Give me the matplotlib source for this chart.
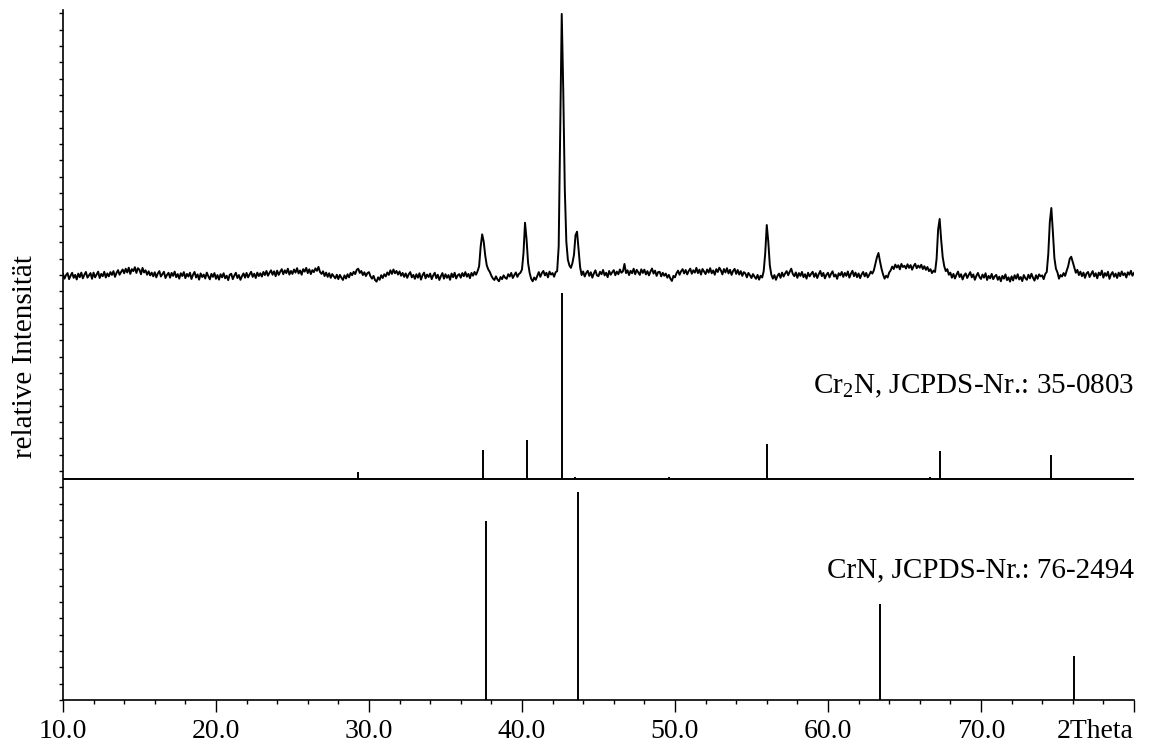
import numpy as np
import matplotlib
matplotlib.use("Agg")
import matplotlib.pyplot as plt
from matplotlib.ticker import MultipleLocator

plt.rcParams['font.family'] = ['Liberation Serif', 'DejaVu Serif']
plt.rcParams['mathtext.fontset'] = 'custom'
plt.rcParams['mathtext.rm'] = 'Liberation Serif'

# measured pattern, 2theta 10.0 .. 80.0, step 0.1 (counts, one row per degree)
meas_start, meas_step = 10.0, 0.1
meas_counts = [
    132, 104, 126, 138, 101, 122, 140, 109, 127, 99,    # 10
    135, 113, 141, 106, 128, 145, 110, 124, 138, 103,   # 11
    141, 112, 130, 147, 108, 133, 119, 146, 111, 136,   # 12
    118, 144, 127, 150, 115, 139, 156, 128, 145, 160,   # 13
    137, 165, 142, 171, 133, 162, 150, 174, 139, 168,   # 14
    158, 131, 170, 142, 155, 128, 149, 124, 141, 118,   # 15
    143, 112, 136, 150, 117, 131, 146, 108, 127, 140,   # 16
    110, 139, 121, 147, 113, 132, 104, 137, 120, 144,   # 17
    107, 133, 117, 140, 102, 128, 145, 111, 130, 98,    # 18
    136, 114, 129, 105, 141, 119, 100, 133, 115, 138,   # 19
    103, 126, 98, 131, 112, 137, 106, 122, 95, 128,     # 20
    134, 101, 123, 140, 108, 126, 97, 119, 136, 110,    # 21
    139, 112, 130, 146, 115, 134, 108, 141, 120, 137,   # 22
    117, 145, 126, 151, 122, 140, 155, 128, 149, 119,   # 23
    153, 127, 146, 162, 131, 155, 138, 165, 129, 151,   # 24
    133, 160, 141, 168, 136, 154, 128, 162, 147, 170,   # 25
    138, 161, 132, 156, 144, 167, 152, 176, 145, 133,   # 26
    149, 120, 141, 115, 137, 109, 132, 118, 106, 128,   # 27
    101, 127, 110, 96, 124, 105, 131, 112, 139, 125,    # 28
    146, 132, 158, 165, 139, 151, 126, 143, 120, 138,   # 29
    144, 118, 104, 121, 95, 86, 112, 97, 125, 108,      # 30
    131, 118, 142, 127, 155, 133, 160, 137, 151, 129,   # 31
    148, 122, 139, 115, 136, 109, 131, 144, 112, 127,   # 32
    103, 131, 110, 137, 98, 125, 141, 106, 129, 114,    # 33
    135, 101, 124, 140, 107, 128, 96, 119, 138, 104,    # 34
    131, 109, 126, 97, 135, 113, 140, 105, 124, 132,    # 35
    110, 138, 119, 144, 116, 133, 107, 139, 122, 145,   # 36
    128, 150, 180, 300, 375, 330, 245, 185, 160, 145,   # 37
    122, 105, 96, 118, 99, 88, 114, 101, 124, 110,      # 38
    103, 131, 117, 139, 108, 126, 142, 115, 133, 140,   # 39
    160, 260, 446, 345, 200, 140, 104, 88, 111, 97,     # 40
    121, 144, 115, 138, 151, 124, 140, 112, 147, 129,   # 41
    138, 116, 143, 150, 300, 1000, 1723, 1250, 650, 330,  # 42
    220, 185, 170, 200, 250, 370, 391, 280, 175, 126,   # 43
    148, 117, 139, 152, 121, 143, 110, 136, 155, 124,   # 44
    119, 146, 131, 157, 124, 140, 113, 151, 128, 143,   # 45
    156, 125, 147, 131, 160, 140, 149, 194, 138, 155,   # 46
    126, 152, 137, 165, 131, 158, 142, 127, 161, 139,   # 47
    159, 130, 150, 124, 147, 166, 135, 153, 121, 144,   # 48
    146, 118, 140, 122, 135, 110, 127, 104, 90, 121,    # 49
    112, 137, 153, 128, 149, 162, 136, 157, 130, 151,   # 50
    165, 134, 155, 141, 170, 138, 159, 129, 163, 147,   # 51
    132, 160, 141, 168, 137, 154, 128, 162, 145, 171,   # 52
    155, 130, 163, 142, 168, 136, 158, 127, 151, 164,   # 53
    133, 157, 129, 150, 121, 144, 136, 112, 139, 125,   # 54
    108, 132, 116, 103, 127, 98, 122, 111, 150, 260,    # 55
    432, 330, 185, 128, 104, 126, 97, 121, 135, 109,    # 56
    141, 117, 136, 150, 125, 146, 165, 133, 119, 142,   # 57
    109, 138, 121, 145, 113, 131, 104, 140, 118, 133,   # 58
    146, 115, 137, 108, 132, 151, 119, 139, 106, 128,   # 59
    140, 112, 133, 149, 117, 129, 103, 137, 124, 145,   # 60
    115, 139, 121, 148, 110, 134, 152, 119, 141, 113,   # 61
    136, 107, 130, 145, 118, 139, 112, 128, 147, 135,   # 62
    155, 195, 235, 261, 210, 165, 130, 104, 122, 111,   # 63
    141, 155, 178, 163, 190, 172, 186, 161, 194, 175,   # 64
    183, 166, 192, 170, 187, 159, 181, 195, 168, 184,   # 65
    171, 189, 163, 180, 158, 175, 150, 162, 138, 153,   # 66
    145, 225, 405, 469, 340, 235, 180, 150, 162, 128,   # 67
    141, 110, 133, 105, 128, 147, 114, 131, 99, 124,    # 68
    136, 108, 127, 144, 112, 130, 97, 121, 139, 115,    # 69
    102, 129, 110, 137, 96, 121, 106, 133, 101, 118,    # 70
    127, 97, 116, 88, 121, 104, 130, 95, 112, 86,       # 71
    118, 93, 125, 104, 131, 99, 114, 89, 126, 107,      # 72
    97, 128, 106, 134, 110, 92, 125, 103, 130, 118,     # 73
    124, 101, 132, 145, 255, 450, 536, 390, 230, 165,   # 74
    142, 104, 126, 117, 138, 121, 152, 180, 225, 238,   # 75
    205, 170, 140, 158, 126, 147, 119, 141, 109, 136,   # 76
    145, 114, 132, 150, 118, 137, 106, 141, 125, 153,   # 77
    110, 138, 121, 146, 103, 130, 144, 116, 135, 108,   # 78
    141, 119, 148, 125, 137, 111, 143, 128, 152, 122,   # 79
    139,                                                # 80
]

# reference lines (2theta, relative intensity %)
cr2n_pos = [29.3, 37.45, 40.3, 42.6, 43.44, 49.6, 56.0, 66.7, 67.3, 74.6]
cr2n_int = [4, 16, 21, 100, 1, 1, 19, 1, 15, 13]
crn_pos = [37.63, 43.68, 63.4, 76.1]
crn_int = [86, 100, 46, 21]

cr2n_label = r"Cr$_{\mathrm{2}}$N, JCPDS-Nr.: 35-0803"
crn_label = "CrN, JCPDS-Nr.: 76-2494"
xtick_pos = [10, 20, 30, 40, 50, 60, 70, 80]
xtick_labels = ["10.0", "20.0", "30.0", "40.0", "50.0", "60.0", "70.0", "2Theta"]

# stacking of the three panels (axis units)
MEAS_OFFSET, MEAS_SCALE = 24.73, 0.01
CR2N_BASE, CR2N_SCALE = 13.5, 0.1138
CRN_BASE, CRN_SCALE = 0.0, 0.1272

two_theta = meas_start + meas_step * np.arange(len(meas_counts))
meas_y = MEAS_OFFSET + np.array(meas_counts) * MEAS_SCALE

fig = plt.figure(figsize=(11.51, 7.47), dpi=100)
ax = fig.add_axes([0.0547, 0.0629, 0.9305, 0.9237])

ax.plot(two_theta, meas_y, color='black', lw=1.4)

ax.hlines(CR2N_BASE, 10, 80, color='black', lw=1.4)
ax.vlines(cr2n_pos, CR2N_BASE, CR2N_BASE + np.array(cr2n_int) * CR2N_SCALE,
          color='black', lw=1.4)
ax.vlines(crn_pos, CRN_BASE, CRN_BASE + np.array(crn_int) * CRN_SCALE,
          color='black', lw=1.4)

ax.text(80, 18.78, cr2n_label, ha='right', va='baseline', fontsize=21)
ax.text(80, 7.52, crn_label, ha='right', va='baseline', fontsize=21)

ax.set_xlim(10, 80)
ax.set_ylim(0, 42.2)
ax.set_xticks(xtick_pos)
ax.set_xticklabels(xtick_labels, fontsize=20)
ax.get_xticklabels()[-1].set_horizontalalignment('right')
ax.xaxis.set_minor_locator(MultipleLocator(2))
ax.tick_params(axis='x', which='major', length=8.5, width=1.0, pad=5)
ax.tick_params(axis='x', which='minor', length=3, width=1.0)

ax.yaxis.set_major_locator(MultipleLocator(1))
ax.tick_params(axis='y', which='major', length=3, width=1.0, labelleft=False)

for side in ['top', 'right']:
    ax.spines[side].set_visible(False)
for side in ['left', 'bottom']:
    ax.spines[side].set_linewidth(1.2)

fig.text(0.022, 0.523, "relative Intensität", rotation=90, ha='center',
         va='center', fontsize=21)

fig.savefig("out.png", dpi=100)
